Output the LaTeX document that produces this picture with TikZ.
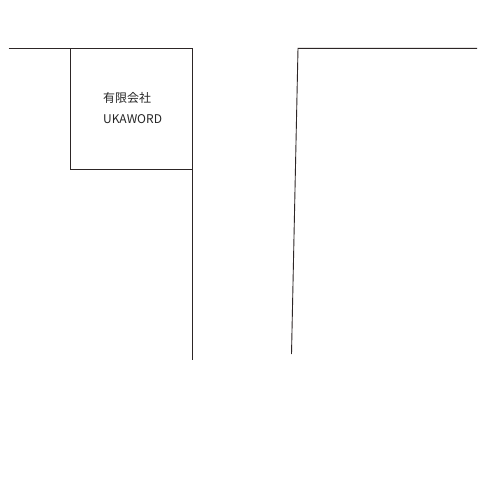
\documentclass[tikz,border=0pt]{standalone}
\usepackage{fontspec}
\setmainfont{Noto Sans CJK JP}
\definecolor{wallink}{RGB}{45,38,38}
\begin{document}
\begin{tikzpicture}[x=1pt,y=-1pt,
  wall/.style={draw=wallink,line width=0.9pt,line join=miter},
  label/.style={inner sep=0pt,anchor=base west,font=\fontsize{12}{14}\selectfont,text=black!85}]
\useasboundingbox (0,0) rectangle (500,500);
\fill[white] (0,0) rectangle (500,500);
\coordinate (a) at (8.5,48);
\coordinate (b) at (70.5,48);
\coordinate (c) at (192,48);
\coordinate (d) at (192,169.5);
\coordinate (e) at (70.5,169.5);
\coordinate (f) at (192,359.5);
\coordinate (g) at (477,48.4);
\coordinate (h) at (298,48.4);
\coordinate (i) at (291.5,354);
\draw[wall] (a) -- (b);
\draw[wall] (b) -- (c) -- (d) -- (e) -- cycle;
\draw[wall] (d) -- (f);
\draw[wall] (g) -- (h) -- (i);
\node[label] (name) at (103,102.5) {有限会社};
\node[label] (word) at (103,123) {UKAWORD};
\end{tikzpicture}
\end{document}
